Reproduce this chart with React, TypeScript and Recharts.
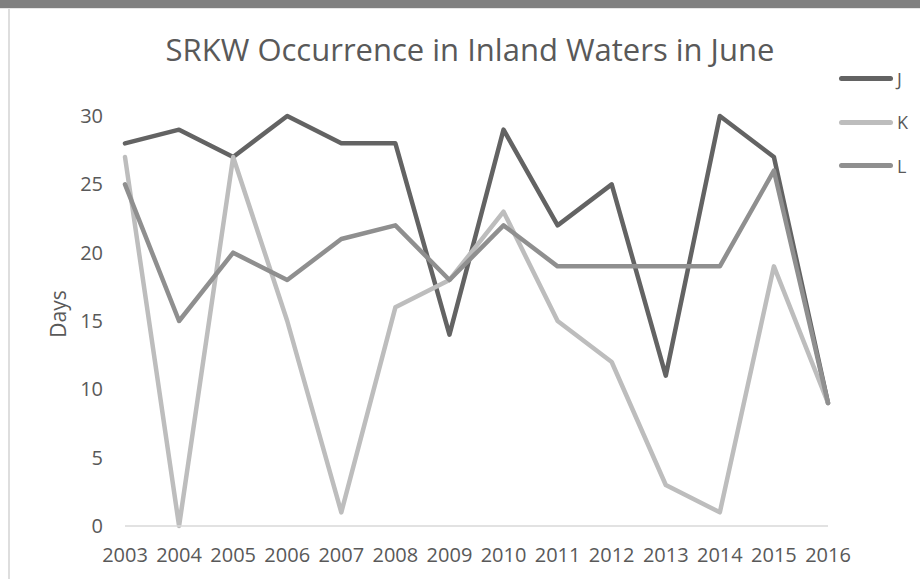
import { LineChart, Line, XAxis, YAxis, Legend } from "recharts"

const years = ["2003", "2004", "2005", "2006", "2007", "2008", "2009", "2010", "2011", "2012", "2013", "2014", "2015", "2016"]
const jPod = [28, 29, 27, 30, 28, 28, 14, 29, 22, 25, 11, 30, 27, 9]
const kPod = [27, 0, 27, 15, 1, 16, 18, 23, 15, 12, 3, 1, 19, 9]
const lPod = [25, 15, 20, 18, 21, 22, 18, 22, 19, 19, 19, 19, 26, 9]
const yTicks = [0, 5, 10, 15, 20, 25, 30]

const series = [
  { key: "J", color: "#636363" },
  { key: "K", color: "#bdbdbd" },
  { key: "L", color: "#8f8f8f" },
]

const data = years.map((year, i) => ({ year, J: jPod[i], K: kPod[i], L: lPod[i] }))

const font = "'Open Sans', sans-serif"
const textColor = "#595959"

function LegendBox() {
  return (
    <div style={{ fontFamily: font, color: textColor, fontSize: 18 }}>
      {series.map((s) => (
        <div key={s.key} style={{ display: "flex", alignItems: "center", height: 43.5 }}>
          <div style={{ width: 54, height: 5, borderRadius: 3, background: s.color }} />
          <div style={{ marginLeft: 4 }}>{s.key}</div>
        </div>
      ))}
    </div>
  )
}

export default function App() {
  return (
    <div style={{ position: "absolute", left: 0, top: 0, width: 920, height: 579, background: "#fff", overflow: "hidden" }}>
      <div style={{ position: "absolute", left: 0, top: 0, width: 920, height: 8, background: "#808080" }} />
      <div style={{ position: "absolute", left: 0, top: 8, width: 920, height: 1, background: "#e6e6e6" }} />
      <div style={{ position: "absolute", left: 8, top: 9, width: 2, height: 570, background: "#dedede" }} />
      <div
        style={{
          position: "absolute",
          left: 0,
          top: 34,
          width: 940,
          lineHeight: "31px",
          textAlign: "center",
          fontFamily: font,
          fontSize: 31,
          color: textColor,
        }}
      >
        SRKW Occurrence in Inland Waters in June
      </div>
      <LineChart width={920} height={579} data={data} margin={{ top: 116, right: 12, bottom: 13, left: 0 }}>
        <XAxis
          dataKey="year"
          axisLine={{ stroke: "#d9d9d9", strokeWidth: 1.5 }}
          tickLine={false}
          tickSize={0}
          tickMargin={22}
          height={40}
          interval={0}
          tick={{ fill: textColor, fontSize: 20, fontFamily: font }}
        />
        <YAxis
          domain={[0, 30]}
          ticks={yTicks}
          width={125}
          axisLine={false}
          tickLine={false}
          tickSize={0}
          tickMargin={22}
          tick={{ fill: textColor, fontSize: 20, fontFamily: font }}
          label={{
            value: "Days",
            angle: -90,
            position: "insideLeft",
            offset: 0,
            content: () => (
              <text
                x={66}
                y={314}
                transform="rotate(-90 66 314)"
                textAnchor="middle"
                fill={textColor}
                fontSize={21}
                fontFamily={font}
              >
                Days
              </text>
            ),
          }}
        />
        <Legend
          layout="vertical"
          align="right"
          verticalAlign="top"
          content={() => <LegendBox />}
          wrapperStyle={{ position: "absolute", left: 839, top: 57, width: 80 }}
        />
        {series.map((s) => (
          <Line
            key={s.key}
            dataKey={s.key}
            stroke={s.color}
            strokeWidth={4.5}
            strokeLinecap="round"
            strokeLinejoin="round"
            dot={false}
            activeDot={false}
            isAnimationActive={false}
          />
        ))}
      </LineChart>
    </div>
  )
}
